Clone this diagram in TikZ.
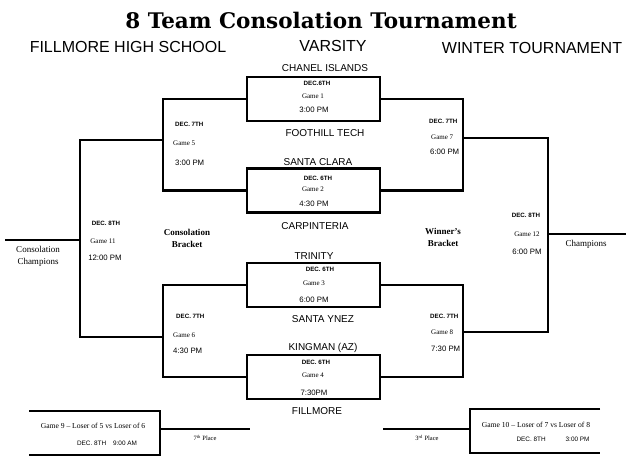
\documentclass[tikz,border=0pt]{standalone}
\usepackage{fontspec}
\setmainfont{Liberation Serif}
\setsansfont{Liberation Sans}
\newfontfamily\titlefont{DejaVu Serif}
\usetikzlibrary{calc}

\begin{document}
\begin{tikzpicture}[x=1pt,y=-1pt,
  bline/.style={line width=2.6pt},
  gamebox/.style={draw,line width=2.4pt,minimum width=133pt,minimum height=44pt,inner sep=0pt},
  sub/.style={font=\sffamily\fontsize{16}{18}\selectfont},
  team/.style={font=\sffamily\fontsize{10}{11}\selectfont},
  date/.style={font=\sffamily\bfseries\fontsize{6.2}{7}\selectfont,inner sep=0pt},
  gno/.style={font=\fontsize{7}{8}\selectfont,inner sep=0pt},
  time/.style={font=\sffamily\fontsize{7.8}{9}\selectfont,inner sep=0pt},
  blabel/.style={font=\fontsize{9}{12}\selectfont,align=center}]
\useasboundingbox (0,0) rectangle (640,471);

% header
\node (title) at (321,20) {\titlefont\bfseries\fontsize{21.5}{24}\selectfont 8 Team Consolation Tournament};
\node[sub] (school) at (128,47) {FILLMORE HIGH SCHOOL};
\node[sub] (varsity) at (333,46) {VARSITY};
\node[sub] (winter) at (532,48) {WINTER TOURNAMENT};

% first round boxes
\node[gamebox] (g1) at (313.5,99) {};
\node[gamebox] (g2) at (313.5,190.5) {};
\node[gamebox] (g3) at (313.5,285) {};
\node[gamebox] (g4) at (313.5,377) {};

\coordinate (c5) at (163,140);
\coordinate (c6) at (163,337);
\coordinate (c7) at (463,138);
\coordinate (c8) at (463,332);
\coordinate (c11) at (80,240);
\coordinate (c12) at (548,234);
\coordinate (cons) at (5,240);
\coordinate (champ) at (626,234);

\draw[bline] (g1.west) -| (c5) |- (g2.west);
\draw[bline] (g3.west) -| (c6) |- (g4.west);
\draw[bline] (g1.east) -| (c7) |- (g2.east);
\draw[bline] (g3.east) -| (c8) |- (g4.east);
\draw[bline] (c5) -| (c11) |- (c6);
\draw[bline] (c7) -| (c12) |- (c8);
\draw[bline] (c11) -- (cons);
\draw[bline] (c12) -- (champ);

% 7th and 3rd place
\coordinate (g9t) at (29,411);
\coordinate (g9b) at (29,455);
\coordinate (c9) at (160,429);
\coordinate (p7) at (250,429);
\coordinate (g10t) at (600,409);
\coordinate (g10b) at (600,453);
\coordinate (c10) at (470,429);
\coordinate (p3) at (383,429);
\draw[bline] (g9t) -| (c9) |- (g9b);
\draw[bline] (c9) -- (p7);
\draw[bline] (g10t) -| (c10) |- (g10b);
\draw[bline] (c10) -- (p3);

% teams
\node[team] (t1) at (325,68) {CHANEL ISLANDS};
\node[team] (t2) at (325,133) {FOOTHILL TECH};
\node[team] (t3) at (318,162) {SANTA CLARA};
\node[team] (t4) at (315,226) {CARPINTERIA};
\node[team] (t5) at (314,256) {TRINITY};
\node[team] (t6) at (323,319) {SANTA YNEZ};
\node[team] (t7) at (323,348) {KINGMAN (AZ)};
\node[team] (t8) at (317,411) {FILLMORE};

% games in the boxes
\node[date] (d1) at (317,83) {DEC.6TH};
\node[gno] (n1) at (313,96) {Game 1};
\node[time] (h1) at (314,110) {3:00 PM};
\node[date] (d2) at (318,178) {DEC. 6TH};
\node[gno] (n2) at (313,189) {Game 2};
\node[time] (h2) at (314,204) {4:30 PM};
\node[date] (d3) at (320,269) {DEC. 6TH};
\node[gno] (n3) at (314,283) {Game 3};
\node[time] (h3) at (314,300) {6:00 PM};
\node[date] (d4) at (316,362) {DEC. 6TH};
\node[gno] (n4) at (313,375) {Game 4};
\node[time] (h4) at (314,393) {7:30PM};

% second round
\node[date,anchor=west] (d5) at (175,124) {DEC. 7TH};
\node[gno,anchor=west] (n5) at (173,143) {Game 5};
\node[time,anchor=west] (h5) at (175,163) {3:00 PM};
\node[date,anchor=west] (d6) at (176,316) {DEC. 7TH};
\node[gno,anchor=west] (n6) at (173,335) {Game 6};
\node[time,anchor=west] (h6) at (173,351) {4:30 PM};
\node[date,anchor=west] (d7) at (429,121) {DEC. 7TH};
\node[gno,anchor=west] (n7) at (431,137) {Game 7};
\node[time,anchor=west] (h7) at (430,152) {6:00 PM};
\node[date,anchor=west] (d8) at (430,316) {DEC. 7TH};
\node[gno,anchor=west] (n8) at (431,332) {Game 8};
\node[time,anchor=west] (h8) at (431,349) {7:30 PM};

% finals
\node[date] (d11) at (106,223) {DEC. 8TH};
\node[gno] (n11) at (103,241) {Game 11};
\node[time] (h11) at (105,258) {12:00 PM};
\node[date] (d12) at (526,215) {DEC. 8TH};
\node[gno] (n12) at (527,234) {Game 12};
\node[time] (h12) at (527,252) {6:00 PM};

\node[blabel] (lcons) at (187,238) {\bfseries Consolation\\\bfseries Bracket};
\node[blabel] (lwin) at (443,237) {\bfseries Winner's\\\bfseries Bracket};
\node[blabel] (lconsch) at (38,256) {Consolation\\Champions};
\node[blabel] (lchamp) at (586,244) {Champions};

% placement games
\node[gno,font=\fontsize{7.6}{9}\selectfont] (n9) at (93,426) {Game 9 -- Loser of 5 vs Loser of 6};
\node[date,font=\sffamily\fontsize{6.4}{7}\selectfont] (d9) at (107,443) {DEC. 8TH\hspace{7pt}9:00 AM};
\node[gno,font=\fontsize{6.5}{7}\selectfont] (l7) at (205,438) {7\textsuperscript{th} Place};
\node[gno,font=\fontsize{7.6}{9}\selectfont] (n10) at (536,425) {Game 10 -- Loser of 7 vs Loser of 8};
\node[date,font=\sffamily\fontsize{6.4}{7}\selectfont] (d10) at (553,439) {DEC. 8TH\hspace{20pt}3:00 PM};
\node[gno,font=\fontsize{6.5}{7}\selectfont] (l3) at (427,438) {3\textsuperscript{rd} Place};
\end{tikzpicture}
\end{document}
